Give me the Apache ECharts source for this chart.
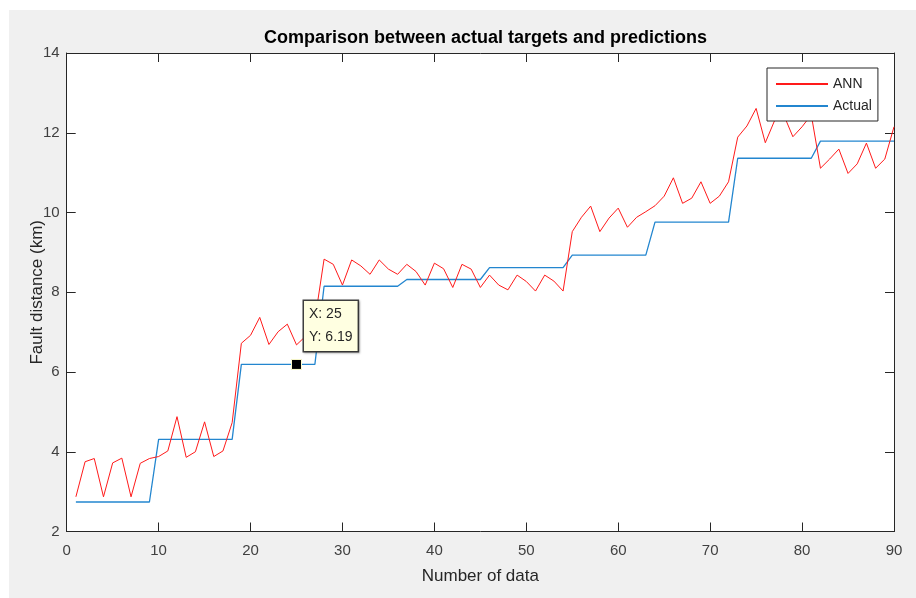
<!DOCTYPE html>
<html>
<head>
<meta charset="utf-8">
<script src="https://cdn.jsdelivr.net/npm/echarts@6/dist/echarts.min.js"></script>
<style>
html,body{margin:0;padding:0;background:#fff;width:916px;height:598px;overflow:hidden;}
#c{position:absolute;left:9px;top:10px;width:907px;height:588px;}
</style>
</head>
<body>
<div id="c"></div>
<script>
// ---- data ----
const sampleIndex = [1,2,3,4,5,6,7,8,9,10,11,12,13,14,15,16,17,18,19,20,21,22,23,24,25,26,27,28,29,30,
  31,32,33,34,35,36,37,38,39,40,41,42,43,44,45,46,47,48,49,50,51,52,53,54,55,56,57,58,59,60,
  61,62,63,64,65,66,67,68,69,70,71,72,73,74,75,76,77,78,79,80,81,82,83,84,85,86,87,88,89,90];
const annValues = [2.87,3.75,3.83,2.87,3.72,3.84,2.87,3.71,3.83,3.88,
  4.02,4.88,3.86,4.00,4.75,3.88,4.02,4.73,6.72,6.92,
  7.37,6.69,7.01,7.20,6.68,6.90,7.30,8.83,8.70,8.18,
  8.81,8.66,8.45,8.81,8.58,8.45,8.70,8.52,8.18,8.73,
  8.59,8.12,8.70,8.58,8.12,8.43,8.18,8.06,8.43,8.27,
  8.03,8.43,8.28,8.03,9.52,9.88,10.16,9.52,9.86,10.11,
  9.63,9.88,10.02,10.17,10.41,10.87,10.23,10.36,10.77,10.23,
  10.41,10.77,11.89,12.17,12.61,11.75,12.30,12.45,11.90,12.15,
  12.45,11.11,11.34,11.59,10.98,11.22,11.74,11.11,11.34,12.15];
const actualValues = [2.74,2.74,2.74,2.74,2.74,2.74,2.74,2.74,2.74,
  4.31,4.31,4.31,4.31,4.31,4.31,4.31,4.31,4.31,
  6.19,6.19,6.19,6.19,6.19,6.19,6.19,6.19,6.19,
  8.15,8.15,8.15,8.15,8.15,8.15,8.15,8.15,8.15,
  8.32,8.32,8.32,8.32,8.32,8.32,8.32,8.32,8.32,
  8.62,8.62,8.62,8.62,8.62,8.62,8.62,8.62,8.62,
  8.93,8.93,8.93,8.93,8.93,8.93,8.93,8.93,8.93,
  9.76,9.76,9.76,9.76,9.76,9.76,9.76,9.76,9.76,
  11.36,11.36,11.36,11.36,11.36,11.36,11.36,11.36,11.36,
  11.79,11.79,11.79,11.79,11.79,11.79,11.79,11.79,11.79];
const seriesNames = ['ANN','Actual'];
const xTicks = [0,10,20,30,40,50,60,70,80,90];
const yTicks = [2,4,6,8,10,12,14];
const tipX = 25;
const tipY = 6.19;

// ---- chart ----
const chart = echarts.init(document.getElementById('c'), null, {renderer:'canvas'});
const axisColor = '#262626';
const font = 'Liberation Sans, Arial, Helvetica, sans-serif';
const annData = sampleIndex.map((x,i)=>[x, annValues[i]]);
const actData = sampleIndex.map((x,i)=>[x, actualValues[i]]);

const xBase = {
  type:'value', min:xTicks[0], max:xTicks[xTicks.length-1], interval:xTicks[1]-xTicks[0],
  axisLine:{show:true, onZero:false, lineStyle:{color:axisColor, width:1}},
  axisTick:{show:true, inside:true, length:9, lineStyle:{color:axisColor}},
  splitLine:{show:false}
};
const yBase = {
  type:'value', min:yTicks[0], max:yTicks[yTicks.length-1], interval:yTicks[1]-yTicks[0],
  axisLine:{show:true, onZero:false, lineStyle:{color:axisColor, width:1}},
  axisTick:{show:true, inside:true, length:9, lineStyle:{color:axisColor}},
  splitLine:{show:false}
};

chart.setOption({
  backgroundColor:'#f0f0f0',
  animation:false,
  title:{
    text:'Comparison between actual targets and predictions',
    left:250, top:14,
    textStyle:{fontFamily:font, fontSize:18, fontWeight:'bold', color:'#000'}
  },
  grid:{show:true, backgroundColor:'#ffffff', borderWidth:0, left:57.7, right:22, top:43, bottom:66.5},
  legend:{
    data:seriesNames, orient:'vertical', left:758, top:58,
    backgroundColor:'#ffffff', borderColor:'#262626', borderWidth:1,
    padding:[9,6,8,8], itemWidth:52, itemHeight:14, itemGap:8,
    itemStyle:{opacity:0},
    textStyle:{fontFamily:font, fontSize:14, color:'#262626'}
  },
  xAxis:[
    Object.assign({}, xBase, {
      position:'bottom', name:'Number of data', nameLocation:'middle', nameGap:36,
      nameMoveOverlap:false,
      nameTextStyle:{fontFamily:font, fontSize:17, color:'#262626'},
      axisLabel:{show:true, margin:12, fontFamily:font, fontSize:15, color:'#404040'}
    }),
    Object.assign({}, xBase, {position:'top', axisLabel:{show:false}})
  ],
  yAxis:[
    Object.assign({}, yBase, {
      position:'left', name:'Fault distance (km)', nameLocation:'middle', nameGap:21,
      nameMoveOverlap:false,
      nameTextStyle:{fontFamily:font, fontSize:17, color:'#262626'},
      axisLabel:{show:true, margin:7, fontFamily:font, fontSize:15, color:'#404040'}
    }),
    Object.assign({}, yBase, {position:'right', axisLabel:{show:false}})
  ],
  series:[
    {
      name:seriesNames[0], type:'line', data:annData, symbol:'none',
      lineStyle:{color:'#ff1a1a', width:1}, itemStyle:{color:'#ff1a1a'}, z:3
    },
    {
      name:seriesNames[1], type:'line', data:actData, symbol:'none',
      lineStyle:{color:'#2386cf', width:1.3}, itemStyle:{color:'#2386cf'}, z:2,
      markPoint:{
        symbol:'rect', symbolSize:10,
        itemStyle:{color:'#000', borderColor:'#ffffd0', borderWidth:1, opacity:1},
        label:{
          show:true, position:[13,-58], align:'left', verticalAlign:'top',
          formatter:'X: ' + tipX + '\nY: ' + tipY,
          fontFamily:font, fontSize:14, lineHeight:23, color:'#262626',
          backgroundColor:'#ffffe1', borderColor:'#404040', borderWidth:1.5,
          padding:[2,5,2,5],
          shadowColor:'rgba(0,0,0,0.25)', shadowBlur:2, shadowOffsetX:1, shadowOffsetY:1
        },
        data:[{coord:[tipX, tipY]}]
      }
    }
  ]
});
</script>
</body>
</html>
